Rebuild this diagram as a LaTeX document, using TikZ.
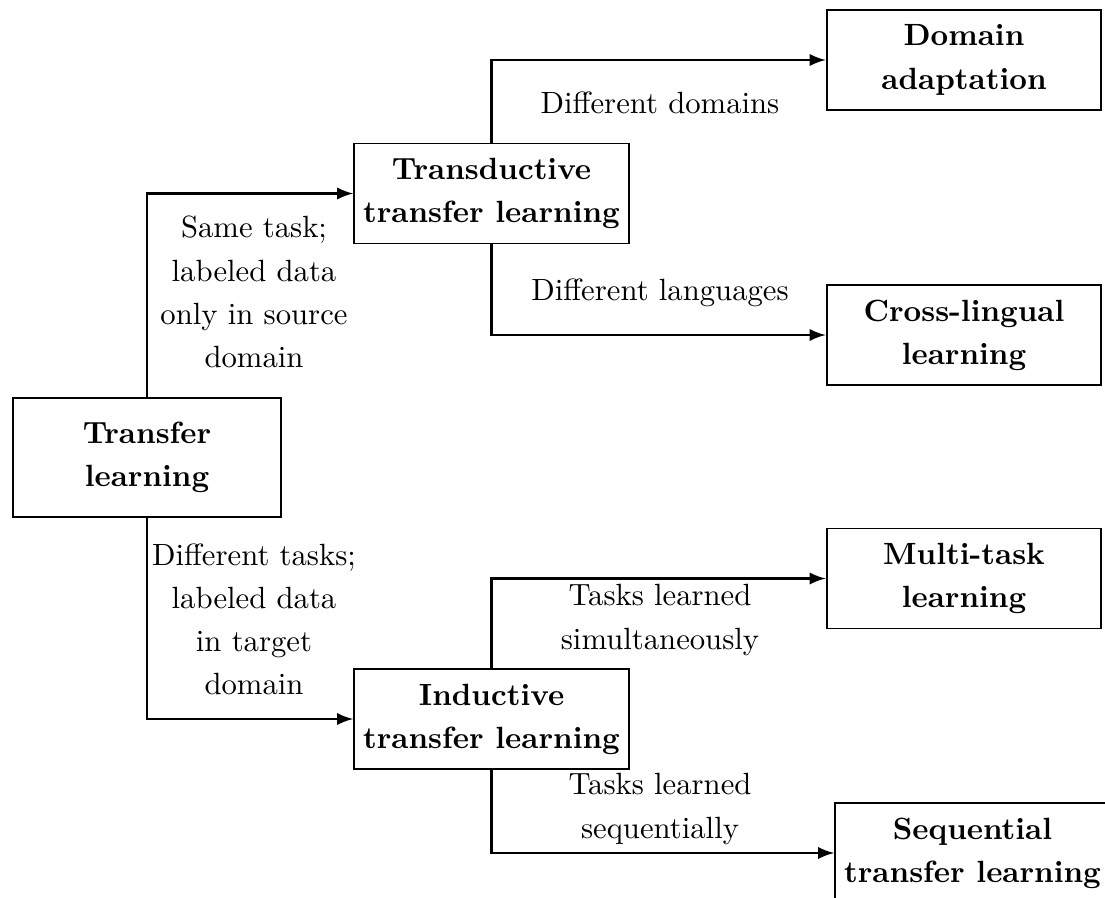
\documentclass[tikz,border=0pt]{standalone}
\begin{document}
\begin{tikzpicture}[x=0.3257pt,y=-0.3257pt,
    box/.style={draw, line width=0.6pt, align=center, font=\bfseries\linespread{1.17}\selectfont, minimum width=89.5pt, minimum height=32.6pt, inner sep=2pt},
    lbl/.style={align=center, font=\linespread{1.17}\selectfont},
    arr/.style={-latex, thick}]
    \useasboundingbox (0,0) rectangle (1105,897);
    % boxes
    \node[box, minimum width=87.3pt, minimum height=38.8pt] (tl) at (147,457.5) {Transfer\\learning};
    \node[box] (td) at (491.5,193.5) {Transductive\\transfer learning};
    \node[box] (id) at (491.5,719) {Inductive\\transfer learning};
    \node[box] (da) at (964,60) {Domain\\adaptation};
    \node[box] (cl) at (964,335) {Cross-lingual\\learning};
    \node[box] (mt) at (964,578.5) {Multi-task\\learning};
    \node[box] (st) at (972.5,853) {Sequential\\transfer learning};
    % labels
    \node[lbl] (l1) at (254,292) {Same task;\\labeled data\\only in source\\domain};
    \node[lbl] (l2) at (254,619) {Different tasks;\\labeled data\\in target\\domain};
    \node[lbl] (l3) at (660,103) {Different domains};
    \node[lbl] (l4) at (660,293) {Different languages};
    \node[lbl] (l5) at (660,620) {Tasks learned\\simultaneously};
    \node[lbl] (l6) at (660,809) {Tasks learned\\sequentially};
    % arrows
    \draw[arr] (tl.north) |- (td.west);
    \draw[arr] (tl.south) |- (id.west);
    \draw[arr] (td.north) |- (da.west);
    \draw[arr] (td.south) |- (cl.west);
    \draw[arr] (id.north) |- (mt.west);
    \draw[arr] (id.south) |- (st.west);
\end{tikzpicture}
\end{document}
